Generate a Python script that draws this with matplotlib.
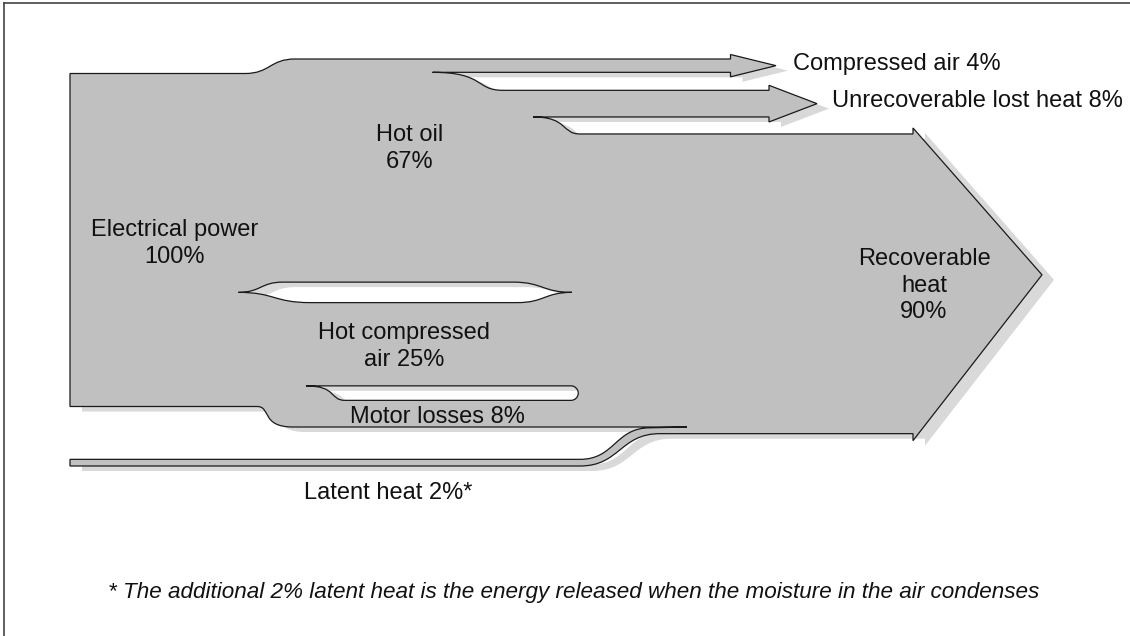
import matplotlib.pyplot as plt
from matplotlib.path import Path
from matplotlib.patches import PathPatch

# flows, in percent of the electrical input
SOURCE_NAMES = ['Electrical power\n', 'Latent heat ']
SOURCE_VALUES = [100, 2]
SPLIT_NAMES = ['Hot oil\n', 'Hot compressed\nair ', 'Motor losses ']
SPLIT_VALUES = [67, 25, 8]
OUTPUT_NAMES = ['Compressed air ', 'Unrecoverable lost heat ', 'Recoverable\nheat\n']
OUTPUT_VALUES = [4, 8, 90]
FOOTNOTE = '* The additional 2% latent heat is the energy released when the moisture in the air condenses'

PX = 3.33          # pixels per percent
FILL = '#c0c0c0'
SHADOW = '#d9d9d9'
EDGE = '#1a1a1a'


class Outline:
    """small helper to build a matplotlib Path step by step"""
    def __init__(self):
        self.verts = []
        self.codes = []

    def move(self, x, y):
        self.verts.append((x, y))
        self.codes.append(Path.MOVETO)

    def line(self, x, y):
        self.verts.append((x, y))
        self.codes.append(Path.LINETO)

    def curve(self, x, y, a=0.5, b=0.5):
        # s-shaped cubic, horizontal at both ends
        x0, y0 = self.verts[-1]
        dx = x - x0
        self.verts += [(x0 + a * dx, y0), (x - b * dx, y), (x, y)]
        self.codes += [Path.CURVE4] * 3

    def bezier(self, c1, c2, p):
        self.verts += [c1, c2, p]
        self.codes += [Path.CURVE4] * 3

    def close(self):
        self.verts.append(self.verts[-1])
        self.codes.append(Path.CLOSEPOLY)


def label(name, value, suffix=''):
    return f'{name}{value}%{suffix}'


def build():
    o = Outline()

    # vertical positions from the flow sizes
    top_in = 73.5
    top = 59
    bottom_in = top_in + SOURCE_VALUES[0] * PX
    oil_bot = top + SPLIT_VALUES[0] * PX
    air_top = oil_bot + 20.5
    air_bot = air_top + SPLIT_VALUES[1] * PX
    motor_top = air_bot + 14.5
    motor_bot = motor_top + SPLIT_VALUES[2] * PX
    latent_bot = 466
    latent_top = latent_bot - SOURCE_VALUES[1] * PX

    comp_bot = top + OUTPUT_VALUES[0] * PX
    unrec_top = comp_bot + 18
    unrec_bot = unrec_top + OUTPUT_VALUES[1] * PX
    rec_top = unrec_bot + 17
    rec_bot = rec_top + OUTPUT_VALUES[2] * PX

    # outer outline
    o.move(70, top_in)
    o.line(245, top_in)
    o.curve(295, top)
    o.line(730.5, top)
    o.line(730.5, top - 4.5)
    o.line(776, (top + comp_bot) / 2)
    o.line(730.5, comp_bot + 4.5)
    o.line(730.5, comp_bot)
    o.line(432.5, comp_bot)
    o.curve(503, unrec_top, 0.75, 0.4)
    o.line(769, unrec_top)
    o.line(769, unrec_top - 5)
    o.line(817, (unrec_top + unrec_bot) / 2)
    o.line(769, unrec_bot + 5)
    o.line(769, unrec_bot)
    o.line(533, unrec_bot)
    o.curve(580, rec_top, 0.75, 0.4)
    o.line(913, rec_top)
    o.line(913, rec_top - 6)
    o.line(1042, (rec_top + rec_bot) / 2 - 9)
    o.line(913, rec_bot + 7)
    o.line(913, rec_bot)
    o.line(660, rec_bot)
    o.curve(580, latent_bot)
    o.line(70, latent_bot)
    o.line(70, latent_top)
    o.line(580, latent_top)
    o.curve(650, motor_bot + 0.8)
    o.line(687, motor_bot)
    o.line(293, motor_bot)
    o.curve(257, bottom_in, 0.9, 0.4)
    o.line(70, bottom_in)
    o.close()

    # slit between hot oil and hot compressed air
    yc = (oil_bot + air_top) / 2
    o.move(238.5, yc)
    o.curve(310, air_top)
    o.line(517, air_top)
    o.curve(572, yc)
    o.curve(513, oil_bot)
    o.line(283, oil_bot)
    o.curve(238.5, yc)
    o.close()

    # slit between hot compressed air and motor losses
    r = (motor_top - air_bot) / 2
    k = 0.5523 * r
    mid = (motor_top + air_bot) / 2
    o.move(306, air_bot)
    o.curve(345, motor_top, 0.8, 0.4)
    o.line(571, motor_top)
    o.bezier((571 + k, motor_top), (571 + r, mid + k), (571 + r, mid))
    o.bezier((571 + r, mid - k), (571 + k, air_bot), (571, air_bot))
    o.line(306, air_bot)
    o.close()

    return o


def visual():
    plt.rcParams['font.family'] = ['Liberation Sans', 'DejaVu Sans']
    fig = plt.figure(figsize=(11.3, 6.36), dpi=100)
    ax = fig.add_axes([0, 0, 1, 1])
    ax.set_xlim(0, 1130)
    ax.set_ylim(636, 0)
    ax.axis('off')

    o = build()
    shadow = Path([(x + 12, y + 5) for x, y in o.verts], o.codes)
    ax.add_patch(PathPatch(shadow, facecolor=SHADOW, edgecolor='none', zorder=1))
    ax.add_patch(PathPatch(Path(o.verts, o.codes), facecolor=FILL,
                           edgecolor=EDGE, linewidth=0.9, zorder=2))

    # frame
    ax.plot([4, 4], [636, 3], color='#444444', lw=1.2, zorder=0)
    ax.plot([4, 1130], [3, 3], color='#444444', lw=1.2, zorder=0)

    fs = 17
    kw = dict(fontsize=fs, color='#111111', va='baseline', zorder=3, linespacing=1.28)
    ax.text(175, 263, label(SOURCE_NAMES[0], SOURCE_VALUES[0]), ha='center', multialignment='center', **kw)
    ax.text(388, 499, label(SOURCE_NAMES[1], SOURCE_VALUES[1], '*'), ha='center', **kw)
    ax.text(409.5, 168, label(SPLIT_NAMES[0], SPLIT_VALUES[0]), ha='center', multialignment='center', **kw)
    ax.text(404.5, 366, label(SPLIT_NAMES[1], SPLIT_VALUES[1]), ha='center', multialignment='center', **kw)
    ax.text(437.5, 422.7, label(SPLIT_NAMES[2], SPLIT_VALUES[2]), ha='center', **kw)
    ax.text(793, 70, label(OUTPUT_NAMES[0], OUTPUT_VALUES[0]), ha='left', **kw)
    ax.text(831.5, 106.7, label(OUTPUT_NAMES[1], OUTPUT_VALUES[1]), ha='left', **kw)
    ax.text(924, 318.3, label(OUTPUT_NAMES[2], OUTPUT_VALUES[2]), ha='center', multialignment='center', **kw)

    ax.text(108, 598, FOOTNOTE, fontsize=16.2, style='italic', color='#111111', ha='left', va='baseline')

    fig.savefig('out.png', dpi=100)


if __name__ == '__main__':
    visual()
